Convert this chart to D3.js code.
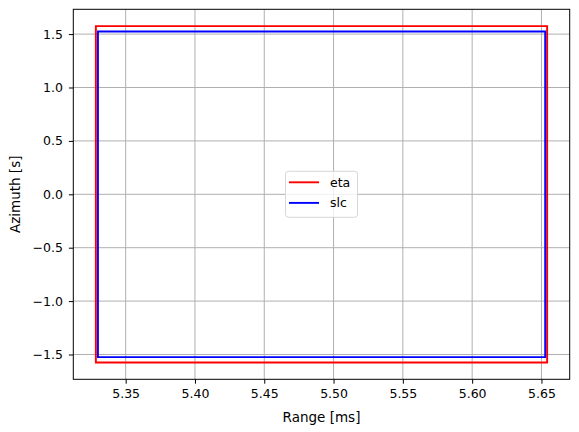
<!DOCTYPE html>
<html>
<head>
    <meta charset="utf-8" />
    <script src="https://d3js.org/d3.v7.min.js"></script>
    <style>
        body { margin: 0; background: #fff; }
        text { font-family: "DejaVu Sans", sans-serif; }
    </style>
</head>
<body>
    <div id="chart"></div>
    <script>
        // rectangle corners: range in ms, azimuth in s
        const seriesNames = ["eta", "slc"];
        const seriesColors = ["red", "blue"];
        const rangeMin = [5.3285, 5.3300];
        const rangeMax = [5.6541, 5.6527];
        const azMin = [-1.5747, -1.525];
        const azMax = [1.5747, 1.525];
        const xTicks = [5.35, 5.40, 5.45, 5.50, 5.55, 5.60, 5.65];
        const yTicks = [-1.5, -1.0, -0.5, 0.0, 0.5, 1.0, 1.5];

        const svgWidth = 579;
        const svgHeight = 432;
        const margin = { top: 9.3, right: 9.3, bottom: 52.7, left: 73.3 };
        const chartWidth = svgWidth - margin.left - margin.right;
        const chartHeight = svgHeight - margin.top - margin.bottom;

        const svg = d3.select("#chart").append("svg")
            .attr("width", svgWidth)
            .attr("height", svgHeight);

        const chart = svg.append("g")
            .attr("transform", `translate(${margin.left}, ${margin.top})`);

        // 5% margins like matplotlib
        const xlo = d3.min(rangeMin), xhi = d3.max(rangeMax);
        const ylo = d3.min(azMin), yhi = d3.max(azMax);
        const xpad = (xhi - xlo) * 0.05, ypad = (yhi - ylo) * 0.05;

        const xScale = d3.scaleLinear().domain([xlo - xpad, xhi + xpad]).range([0, chartWidth]);
        const yScale = d3.scaleLinear().domain([ylo - ypad, yhi + ypad]).range([chartHeight, 0]);

        const fmtY = d => d3.format(".1f")(d).replace("-", "\u2212");

        // grid
        chart.append("g").selectAll("line").data(xTicks).enter().append("line")
            .attr("x1", d => xScale(d)).attr("x2", d => xScale(d))
            .attr("y1", 0).attr("y2", chartHeight)
            .attr("stroke", "#b0b0b0").attr("stroke-width", 1);
        chart.append("g").selectAll("line").data(yTicks).enter().append("line")
            .attr("y1", d => yScale(d)).attr("y2", d => yScale(d))
            .attr("x1", 0).attr("x2", chartWidth)
            .attr("stroke", "#b0b0b0").attr("stroke-width", 1);

        // rectangles
        const rects = seriesNames.map((n, i) => ({
            name: n, color: seriesColors[i],
            pts: [[rangeMin[i], azMin[i]], [rangeMax[i], azMin[i]], [rangeMax[i], azMax[i]],
                  [rangeMin[i], azMax[i]], [rangeMin[i], azMin[i]]]
        }));
        const line = d3.line().x(d => xScale(d[0])).y(d => yScale(d[1]));
        chart.selectAll(".rect").data(rects).enter().append("path")
            .attr("d", d => line(d.pts))
            .attr("fill", "none")
            .attr("stroke", d => d.color)
            .attr("stroke-width", 1.9)
            .attr("stroke-linejoin", "miter")
            .attr("stroke-linecap", "square");

        // axes
        const xAxis = d3.axisBottom(xScale).tickValues(xTicks).tickFormat(d3.format(".2f"))
            .tickSize(4.4).tickPadding(5.5);
        const gx = chart.append("g").attr("transform", `translate(0, ${chartHeight})`).call(xAxis);
        const yAxis = d3.axisLeft(yScale).tickValues(yTicks).tickFormat(fmtY)
            .tickSize(4.4).tickPadding(6);
        const gy = chart.append("g").call(yAxis);
        [gx, gy].forEach(g => {
            g.select(".domain").remove();
            g.selectAll("text").style("font-size", "12.5px").attr("fill", "#000")
                .style("font-family", "DejaVu Sans");
            g.selectAll("line").attr("stroke", "#000").attr("stroke-width", 1);
        });

        chart.append("rect")
            .attr("width", chartWidth).attr("height", chartHeight)
            .attr("fill", "none").attr("stroke", "#000").attr("stroke-width", 1);

        // labels
        chart.append("text")
            .attr("x", chartWidth / 2).attr("y", chartHeight + 42.5)
            .attr("text-anchor", "middle").style("font-size", "13.5px")
            .text("Range [ms]");
        chart.append("text")
            .attr("transform", "rotate(-90)")
            .attr("x", -chartHeight / 2).attr("y", -53)
            .attr("text-anchor", "middle").style("font-size", "13.5px")
            .text("Azimuth [s]");

        // legend
        const lw = 72, lh = 46;
        const lx = chartWidth / 2 - lw / 2, ly = chartHeight / 2 - lh / 2;
        const legend = chart.append("g").attr("transform", `translate(${lx}, ${ly})`);
        legend.append("rect")
            .attr("width", lw).attr("height", lh).attr("rx", 3)
            .attr("fill", "#fff").attr("fill-opacity", 0.8)
            .attr("stroke", "#d6d6d6").attr("stroke-width", 1);
        rects.forEach((r, i) => {
            const yy = 11 + i * 20.6;
            legend.append("line")
                .attr("x1", 3.5).attr("x2", 33.5).attr("y1", yy).attr("y2", yy)
                .attr("stroke", r.color).attr("stroke-width", 1.9);
            legend.append("text")
                .attr("x", 44.5).attr("y", yy).attr("dy", "0.35em")
                .style("font-size", "12.5px").text(r.name);
        });
    </script>
</body>
</html>
